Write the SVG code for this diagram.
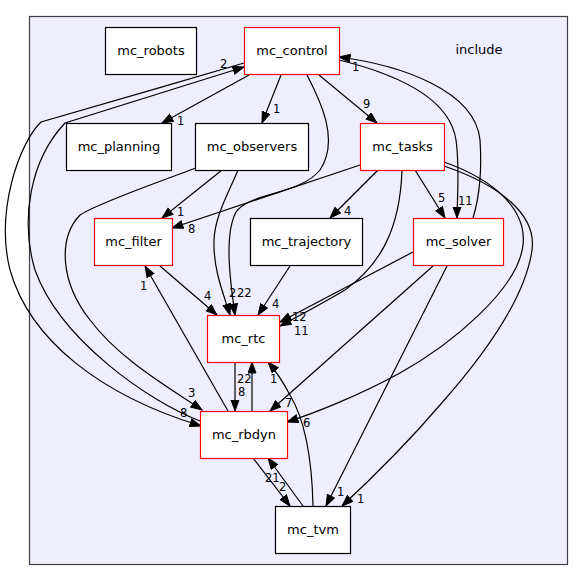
<svg xmlns="http://www.w3.org/2000/svg" width="584" height="581" viewBox="0 0 584 581">
<style>
.cl{fill:#eeeeff;stroke:#404040;stroke-width:1.2}
.n rect{fill:#ffffff;stroke:#000000;stroke-width:1.2}
.n.r rect{stroke:#ff0000}
.n text,.cltxt{font-family:"DejaVu Sans",sans-serif;font-size:13px;fill:#000;text-anchor:middle}
.e path{fill:none;stroke:#000;stroke-width:1.2;marker-end:url(#ah)}
.lb text{font-family:"DejaVu Sans",sans-serif;font-size:11.5px;fill:#000}
</style>
<defs>
<marker id="ah" markerUnits="userSpaceOnUse" markerWidth="13" markerHeight="10" refX="11.5" refY="4.5" orient="auto">
<path d="M0.5,0.5 L11.5,4.5 L0.5,8.5 z" fill="#000" stroke="#000" stroke-width="1"/>
</marker>
</defs>
<rect width="584" height="581" fill="#ffffff"/>
<g id="cluster_include">
<rect class="cl" x="29.5" y="16.5" width="538" height="548"/>
<text class="cltxt" x="479" y="54">include</text>
</g>
<g id="connectors" class="e">
<path d="M249,75 L162,123"/>
<path d="M281,75 L262,123"/>
<path d="M319,75 L377,123"/>
<path d="M307,75 C320,100 340,140 320,170 C300,195 250,192 236,212 C224,235 230,280 235,315"/>
<path d="M238,170 C230,190 215,215 214,240 C213,270 224,295 230,315"/>
<path d="M222,170 L162,218"/>
<path d="M196,168 C150,185 95,205 80,215 C58,238 60,282 90,320 C120,360 170,388 202,410"/>
<path d="M244,63 C180,82 60,116 41,122 C20,142 -5,210 10,270 C30,340 100,395 201,426"/>
<path d="M200,421 C150,402 60,340 35,270 C20,220 30,160 65,123 L244,67"/>
<path d="M339,60 C400,75 450,100 456,140 C460,170 457,200 457,218"/>
<path d="M473,218 C480,195 482,170 480,140 C475,90 400,65 339,57"/>
<path d="M360,165 L172,228"/>
<path d="M378,170 L330,218"/>
<path d="M415,170 L445,218"/>
<path d="M402,170 C400,230 380,265 345,290 C320,305 300,315 280,326"/>
<path d="M444,162 C495,180 527,210 523,245 C518,290 450,345 400,373 C360,395 315,413 287,422"/>
<path d="M444,166 C500,185 537,215 532,250 C525,300 480,360 440,405 C410,440 370,480 342,506"/>
<path d="M413,252 L280,322"/>
<path d="M433,266 L270,411"/>
<path d="M447,266 L326,506"/>
<path d="M160,266 L217,315"/>
<path d="M290,266 L258,315"/>
<path d="M235,362 L235,411"/>
<path d="M252,411 L252,362"/>
<path d="M313,506 C312,460 305,420 290,395 C282,380 275,370 268,362"/>
<path d="M228,411 L145,266"/>
<path d="M253,458 L290,506"/>
<path d="M303,506 L268,458"/>
</g>
<g id="labels" class="lb">
<text x="177" y="125">1</text>
<text x="273" y="113">1</text>
<text x="363" y="108">9</text>
<text x="229" y="297">2</text>
<text x="237" y="297">22</text>
<text x="177" y="216">1</text>
<text x="188" y="397">3</text>
<text x="180" y="417">8</text>
<text x="220" y="68">2</text>
<text x="458" y="205">11</text>
<text x="352" y="71">1</text>
<text x="188" y="233">8</text>
<text x="344" y="215">4</text>
<text x="438" y="202">5</text>
<text x="292" y="321">12</text>
<text x="294" y="335">11</text>
<text x="303" y="427">6</text>
<text x="357" y="503">1</text>
<text x="285" y="407">7</text>
<text x="337" y="496">1</text>
<text x="204" y="300">4</text>
<text x="272" y="308">4</text>
<text x="237" y="383">22</text>
<text x="238" y="396">8</text>
<text x="270" y="383">1</text>
<text x="140" y="290">1</text>
<text x="265" y="482">21</text>
<text x="279" y="491">2</text>
</g>
<g id="mc_robots" class="n"><rect x="105.5" y="27.5" width="91" height="47"/><text x="151" y="55">mc_robots</text></g>
<g id="mc_control" class="n r"><rect x="244.5" y="27.5" width="95" height="47"/><text x="292" y="55">mc_control</text></g>
<g id="mc_planning" class="n"><rect x="66.5" y="123.5" width="105" height="47"/><text x="119" y="151">mc_planning</text></g>
<g id="mc_observers" class="n"><rect x="195.5" y="123.5" width="113" height="47"/><text x="252" y="151">mc_observers</text></g>
<g id="mc_tasks" class="n r"><rect x="360.5" y="123.5" width="84" height="47"/><text x="402.5" y="151">mc_tasks</text></g>
<g id="mc_filter" class="n r"><rect x="94.5" y="218.5" width="78" height="47"/><text x="133.5" y="246">mc_filter</text></g>
<g id="mc_trajectory" class="n"><rect x="250.5" y="218.5" width="112" height="47"/><text x="306.5" y="246">mc_trajectory</text></g>
<g id="mc_solver" class="n r"><rect x="413.5" y="218.5" width="90" height="47"/><text x="458.5" y="246">mc_solver</text></g>
<g id="mc_rtc" class="n r"><rect x="207.5" y="315.5" width="72" height="47"/><text x="243.5" y="343">mc_rtc</text></g>
<g id="mc_rbdyn" class="n r"><rect x="200.5" y="411.5" width="87" height="47"/><text x="244" y="439">mc_rbdyn</text></g>
<g id="mc_tvm" class="n"><rect x="275.5" y="506.5" width="75" height="47"/><text x="313" y="534">mc_tvm</text></g>
</svg>
